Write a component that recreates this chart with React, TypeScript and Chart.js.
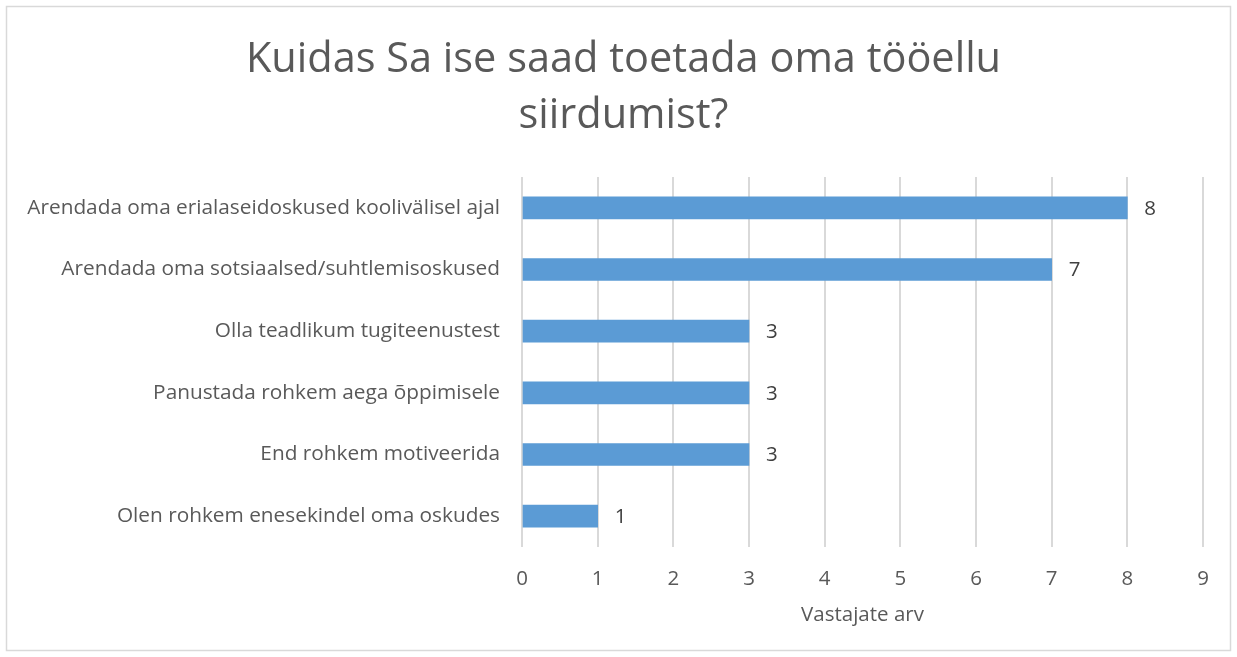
import React, { useEffect, useRef } from "react";
import { Chart, registerables } from "chart.js";

Chart.register(...registerables);

const titleLines = ["Kuidas Sa ise saad toetada oma tööellu", "siirdumist?"];
const categories = [
  "Arendada oma erialaseidoskused koolivälisel ajal",
  "Arendada oma sotsiaalsed/suhtlemisoskused",
  "Olla teadlikum tugiteenustest",
  "Panustada rohkem aega õppimisele",
  "End rohkem motiveerida",
  "Olen rohkem enesekindel oma oskudes",
];
const values = [8, 7, 3, 3, 3, 1];
const xAxisTitle = "Vastajate arv";
const xMin = 0;
const xMax = 9;

const FONT = "'Open Sans', Lato, sans-serif";
const TEXT = "#595959";

export default function App() {
  const ref = useRef<HTMLCanvasElement | null>(null);
  useEffect(() => {
    const canvas = ref.current!;
    const framePlugin = {
      id: "frame",
      beforeDraw(chart: any) {
        const ctx = chart.ctx;
        ctx.save();
        ctx.fillStyle = "#ffffff";
        ctx.fillRect(0, 0, chart.width, chart.height);
        ctx.strokeStyle = "#d9d9d9";
        ctx.lineWidth = 1.5;
        ctx.strokeRect(6.5, 6.5, chart.width - 13, chart.height - 13);
        ctx.fillStyle = TEXT;
        ctx.font = `41.5px ${FONT}`;
        ctx.textAlign = "center";
        ctx.textBaseline = "alphabetic";
        ctx.fillText(titleLines[0], 623.5, 72);
        ctx.fillText(titleLines[1], 623.5, 128);
        ctx.restore();
      },
    };
    const labelPlugin = {
      id: "valueLabels",
      afterDatasetsDraw(chart: any) {
        const ctx = chart.ctx;
        const meta = chart.getDatasetMeta(0);
        ctx.save();
        ctx.font = `20.5px ${FONT}`;
        ctx.fillStyle = "#404040";
        ctx.textAlign = "left";
        ctx.textBaseline = "middle";
        meta.data.forEach((bar: any, i: number) => {
          ctx.fillText(String(values[i]), bar.x + 17, bar.y + 1);
        });
        ctx.restore();
      },
    };
    const chart = new Chart(canvas, {
      type: "bar",
      data: {
        labels: categories,
        datasets: [
          {
            data: values,
            backgroundColor: "#5b9bd5",
            barThickness: 22,
          },
        ],
      },
      options: {
        indexAxis: "y",
        animation: false,
        responsive: false,
        maintainAspectRatio: false,
        layout: { padding: { left: 0, right: 34, top: 177, bottom: 0 } },
        plugins: {
          legend: { display: false },
          tooltip: { enabled: false },
          title: { display: false },
        },
        scales: {
          x: {
            min: xMin,
            max: xMax,
            ticks: {
              stepSize: 1,
              color: TEXT,
              font: { family: FONT, size: 20.5 },
              padding: 20,
            },
            grid: { color: "#d9d9d9", lineWidth: 2, drawTicks: false },
            border: { display: false },
            title: {
              display: true,
              text: xAxisTitle,
              color: TEXT,
              font: { family: FONT, size: 20.5 },
              padding: { top: 0, bottom: 30 },
            },
            afterFit(scale: any) {
              scale.height = 110;
            },
          },
          y: {
            ticks: {
              color: TEXT,
              font: { family: FONT, size: 20.8 },
              padding: 22,
            },
            grid: { display: false, drawTicks: false },
            border: { display: false },
            afterFit(scale: any) {
              scale.width = 522;
            },
          },
        },
      },
      plugins: [framePlugin, labelPlugin],
    });
    return () => chart.destroy();
  }, []);
  return (
    <div style={{ position: "fixed", left: 0, top: 0, width: 1237, height: 657 }}>
      <canvas ref={ref} width={1237} height={657} style={{ display: "block" }} />
    </div>
  );
}
